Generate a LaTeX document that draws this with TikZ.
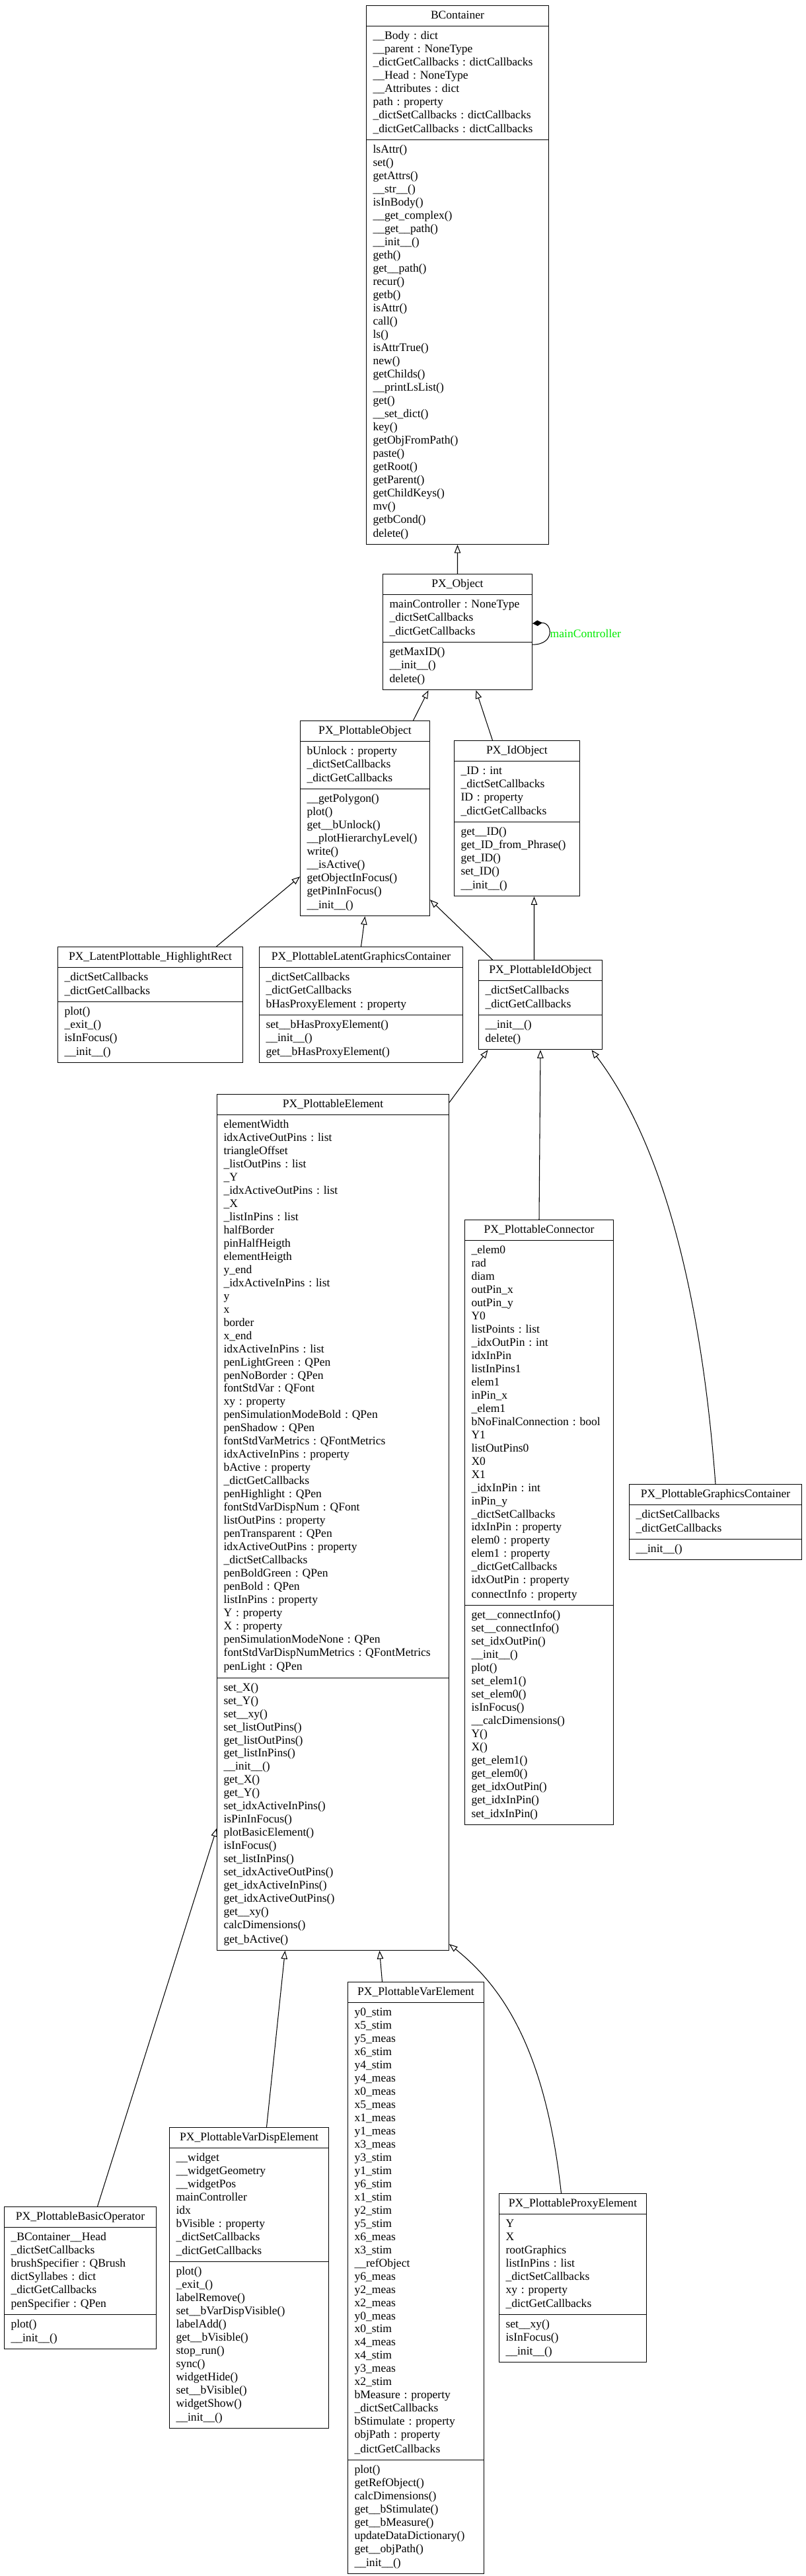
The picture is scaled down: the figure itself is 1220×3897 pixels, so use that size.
\documentclass[tikz,border=0pt]{standalone}
\usepackage{fontspec}
\setmainfont{Liberation Serif}
\usetikzlibrary{shapes.multipart,arrows.meta}
\definecolor{labelgreen}{RGB}{0,235,0}
\frenchspacing
\newcommand{\classfont}{\fontsize{10pt}{11.38pt}\selectfont}
% title / attributes / methods of one class box
\newcommand{\umlparts}[3]{\classfont\hbox to\hsize{\hfil\strut#1\strut\hfil}%
  \nodepart{second}\classfont\strut#2\strut%
  \nodepart{third}\classfont\strut#3\strut}
\tikzset{
    % Class box style
    umlclass/.style={
        rectangle split, rectangle split parts=3,
        draw=black, line width=0.6pt, fill=white,
        anchor=north west, inner xsep=0.2cm, inner ysep=0.1cm,
        align=left
    },
    % Inheritance arrow
    genarrow/.style={
        -{Triangle[open,length=0.25cm,width=0.19cm]}, line width=0.6pt
    },
    % Composition arrow
    comparrow/.style={
        {Diamond[length=0.3cm,width=0.17cm]}-, line width=0.6pt
    },
    % Role label
    rolelabel/.style={
        font=\classfont, text=labelgreen, anchor=west, inner sep=1pt
    }
}
\begin{document}
\begin{tikzpicture}[x=0.02cm, y=-0.02cm]

\path[use as bounding box, fill=white] (0,0) rectangle (1220,3897);

% Base classes
\node[umlclass, text width=5.12cm] (bcont) at (554,8) {\umlparts{BContainer}{%
\_\_Body : dict\\
\_\_parent : NoneType\\
\_dictGetCallbacks : dictCallbacks\\
\_\_Head : NoneType\\
\_\_Attributes : dict\\
path : property\\
\_dictSetCallbacks : dictCallbacks\\
\_dictGetCallbacks : dictCallbacks}{%
lsAttr()\\
set()\\
getAttrs()\\
\_\_str\_\_()\\
isInBody()\\
\_\_get\_complex()\\
\_\_get\_\_path()\\
\_\_init\_\_()\\
geth()\\
get\_\_path()\\
recur()\\
getb()\\
isAttr()\\
call()\\
ls()\\
isAttrTrue()\\
new()\\
getChilds()\\
\_\_printLsList()\\
get()\\
\_\_set\_dict()\\
key()\\
getObjFromPath()\\
paste()\\
getRoot()\\
getParent()\\
getChildKeys()\\
mv()\\
getbCond()\\
delete()}};

\node[umlclass, text width=4.12cm] (pxobj) at (579,868) {\umlparts{PX\_Object}{%
mainController : NoneType\\
\_dictSetCallbacks\\
\_dictGetCallbacks}{%
getMaxID()\\
\_\_init\_\_()\\
delete()}};

\node[umlclass, text width=3.52cm] (pobj) at (454,1090) {\umlparts{PX\_PlottableObject}{%
bUnlock : property\\
\_dictSetCallbacks\\
\_dictGetCallbacks}{%
\_\_getPolygon()\\
plot()\\
get\_\_bUnlock()\\
\_\_plotHierarchyLevel()\\
write()\\
\_\_isActive()\\
getObjectInFocus()\\
getPinInFocus()\\
\_\_init\_\_()}};

\node[umlclass, text width=3.40cm] (idobj) at (687,1120) {\umlparts{PX\_IdObject}{%
\_ID : int\\
\_dictSetCallbacks\\
ID : property\\
\_dictGetCallbacks}{%
get\_\_ID()\\
get\_ID\_from\_Phrase()\\
get\_ID()\\
set\_ID()\\
\_\_init\_\_()}};

% Middle row
\node[umlclass, text width=5.20cm] (lphr) at (87,1432) {\umlparts{PX\_LatentPlottable\_HighlightRect}{%
\_dictSetCallbacks\\
\_dictGetCallbacks}{%
plot()\\
\_exit\_()\\
isInFocus()\\
\_\_init\_\_()}};

\node[umlclass, text width=5.76cm] (lgc) at (392,1432) {\umlparts{PX\_PlottableLatentGraphicsContainer}{%
\_dictSetCallbacks\\
\_dictGetCallbacks\\
bHasProxyElement : property}{%
set\_\_bHasProxyElement()\\
\_\_init\_\_()\\
get\_\_bHasProxyElement()}};

\node[umlclass, text width=3.34cm] (pidobj) at (724,1452) {\umlparts{PX\_PlottableIdObject}{%
\_dictSetCallbacks\\
\_dictGetCallbacks}{%
\_\_init\_\_()\\
delete()}};

% Plottable elements
\node[umlclass, text width=6.62cm] (pelem) at (328,1655) {\umlparts{PX\_PlottableElement}{%
elementWidth\\
idxActiveOutPins : list\\
triangleOffset\\
\_listOutPins : list\\
\_Y\\
\_idxActiveOutPins : list\\
\_X\\
\_listInPins : list\\
halfBorder\\
pinHalfHeigth\\
elementHeigth\\
y\_end\\
\_idxActiveInPins : list\\
y\\
x\\
border\\
x\_end\\
idxActiveInPins : list\\
penLightGreen : QPen\\
penNoBorder : QPen\\
fontStdVar : QFont\\
xy : property\\
penSimulationModeBold : QPen\\
penShadow : QPen\\
fontStdVarMetrics : QFontMetrics\\
idxActiveInPins : property\\
bActive : property\\
\_dictGetCallbacks\\
penHighlight : QPen\\
fontStdVarDispNum : QFont\\
listOutPins : property\\
penTransparent : QPen\\
idxActiveOutPins : property\\
\_dictSetCallbacks\\
penBoldGreen : QPen\\
penBold : QPen\\
listInPins : property\\
Y : property\\
X : property\\
penSimulationModeNone : QPen\\
fontStdVarDispNumMetrics : QFontMetrics\\
penLight : QPen}{%
set\_X()\\
set\_Y()\\
set\_\_xy()\\
set\_listOutPins()\\
get\_listOutPins()\\
get\_listInPins()\\
\_\_init\_\_()\\
get\_X()\\
get\_Y()\\
set\_idxActiveInPins()\\
isPinInFocus()\\
plotBasicElement()\\
isInFocus()\\
set\_listInPins()\\
set\_idxActiveOutPins()\\
get\_idxActiveInPins()\\
get\_idxActiveOutPins()\\
get\_\_xy()\\
calcDimensions()\\
get\_bActive()}};

\node[umlclass, text width=4.10cm] (conn) at (703,1845) {\umlparts{PX\_PlottableConnector}{%
\_elem0\\
rad\\
diam\\
outPin\_x\\
outPin\_y\\
Y0\\
listPoints : list\\
\_idxOutPin : int\\
idxInPin\\
listInPins1\\
elem1\\
inPin\_x\\
\_elem1\\
bNoFinalConnection : bool\\
Y1\\
listOutPins0\\
X0\\
X1\\
\_idxInPin : int\\
inPin\_y\\
\_dictSetCallbacks\\
idxInPin : property\\
elem0 : property\\
elem1 : property\\
\_dictGetCallbacks\\
idxOutPin : property\\
connectInfo : property}{%
get\_\_connectInfo()\\
set\_\_connectInfo()\\
set\_idxOutPin()\\
\_\_init\_\_()\\
plot()\\
set\_elem1()\\
set\_elem0()\\
isInFocus()\\
\_\_calcDimensions()\\
Y()\\
X()\\
get\_elem1()\\
get\_elem0()\\
get\_idxOutPin()\\
get\_idxInPin()\\
set\_idxInPin()}};

\node[umlclass, text width=4.82cm] (gcont) at (952,2245) {\umlparts{PX\_PlottableGraphicsContainer}{%
\_dictSetCallbacks\\
\_dictGetCallbacks}{%
\_\_init\_\_()}};

% Bottom row
\node[umlclass, text width=4.20cm] (bop) at (6,3338) {\umlparts{PX\_PlottableBasicOperator}{%
\_BContainer\_\_Head\\
\_dictSetCallbacks\\
brushSpecifier : QBrush\\
dictSyllabes : dict\\
\_dictGetCallbacks\\
penSpecifier : QPen}{%
plot()\\
\_\_init\_\_()}};

\node[umlclass, text width=4.42cm] (vdisp) at (256,3218) {\umlparts{PX\_PlottableVarDispElement}{%
\_\_widget\\
\_\_widgetGeometry\\
\_\_widgetPos\\
mainController\\
idx\\
bVisible : property\\
\_dictSetCallbacks\\
\_dictGetCallbacks}{%
plot()\\
\_exit\_()\\
labelRemove()\\
set\_\_bVarDispVisible()\\
labelAdd()\\
get\_\_bVisible()\\
stop\_run()\\
sync()\\
widgetHide()\\
set\_\_bVisible()\\
widgetShow()\\
\_\_init\_\_()}};

\node[umlclass, text width=3.72cm] (varel) at (526,2998) {\umlparts{PX\_PlottableVarElement}{%
y0\_stim\\
x5\_stim\\
y5\_meas\\
x6\_stim\\
y4\_stim\\
y4\_meas\\
x0\_meas\\
x5\_meas\\
x1\_meas\\
y1\_meas\\
x3\_meas\\
y3\_stim\\
y1\_stim\\
y6\_stim\\
x1\_stim\\
y2\_stim\\
y5\_stim\\
x6\_meas\\
x3\_stim\\
\_\_refObject\\
y6\_meas\\
y2\_meas\\
x2\_meas\\
y0\_meas\\
x0\_stim\\
x4\_meas\\
x4\_stim\\
y3\_meas\\
x2\_stim\\
bMeasure : property\\
\_dictSetCallbacks\\
bStimulate : property\\
objPath : property\\
\_dictGetCallbacks}{%
plot()\\
getRefObject()\\
calcDimensions()\\
get\_\_bStimulate()\\
get\_\_bMeasure()\\
updateDataDictionary()\\
get\_\_objPath()\\
\_\_init\_\_()}};

\node[umlclass, text width=4.06cm] (proxy) at (755,3318) {\umlparts{PX\_PlottableProxyElement}{%
Y\\
X\\
rootGraphics\\
listInPins : list\\
\_dictSetCallbacks\\
xy : property\\
\_dictGetCallbacks}{%
set\_\_xy()\\
isInFocus()\\
\_\_init\_\_()}};

% Inheritance arrows
\draw[genarrow] (pxobj.north) -- (bcont.south);
\draw[genarrow] ([xshift=1.46cm]pobj.north) -- ([xshift=-0.88cm]pxobj.south);
\draw[genarrow] ([xshift=-0.74cm]idobj.north) -- ([xshift=0.56cm]pxobj.south);
\draw[genarrow] ([xshift=2cm]lphr.north) -- ([yshift=-1.76cm]pobj.west);
\draw[genarrow] (lgc.north) -- (pobj.south);
\draw[genarrow] ([xshift=-1.45cm]pidobj.north) -- ([yshift=-2.46cm]pobj.east);
\draw[genarrow] ([xshift=-0.19cm]pidobj.north) -- ([xshift=0.52cm]idobj.south);
\draw[genarrow] ([yshift=-0.26cm]pelem.north east) -- ([xshift=-1.59cm]pidobj.south);
\draw[genarrow] (conn.north) -- (pidobj.south);
\draw[genarrow] (gcont.north) .. controls +(-22,-295) and +(105,138) .. ([xshift=1.55cm]pidobj.south);
\draw[genarrow] ([xshift=-1.02cm]varel.north) -- ([xshift=1.41cm]pelem.south);
\draw[genarrow] ([xshift=0.53cm]vdisp.north) -- ([xshift=-1.45cm]pelem.south);
\draw[genarrow] ([xshift=0.52cm]bop.north) -- ([yshift=-9.26cm]pelem.west);
\draw[genarrow] ([xshift=-0.35cm]proxy.north) .. controls +(-24,-218) and +(81,65) .. ([yshift=0.2cm]pelem.south east);

% Self composition
\draw[comparrow] ([yshift=0.26cm]pxobj.east) .. controls +(30,-2) and +(35,0) .. node[rolelabel, pos=0.5] (mclabel) {mainController} ([yshift=-0.38cm]pxobj.east);

\end{tikzpicture}
\end{document}
